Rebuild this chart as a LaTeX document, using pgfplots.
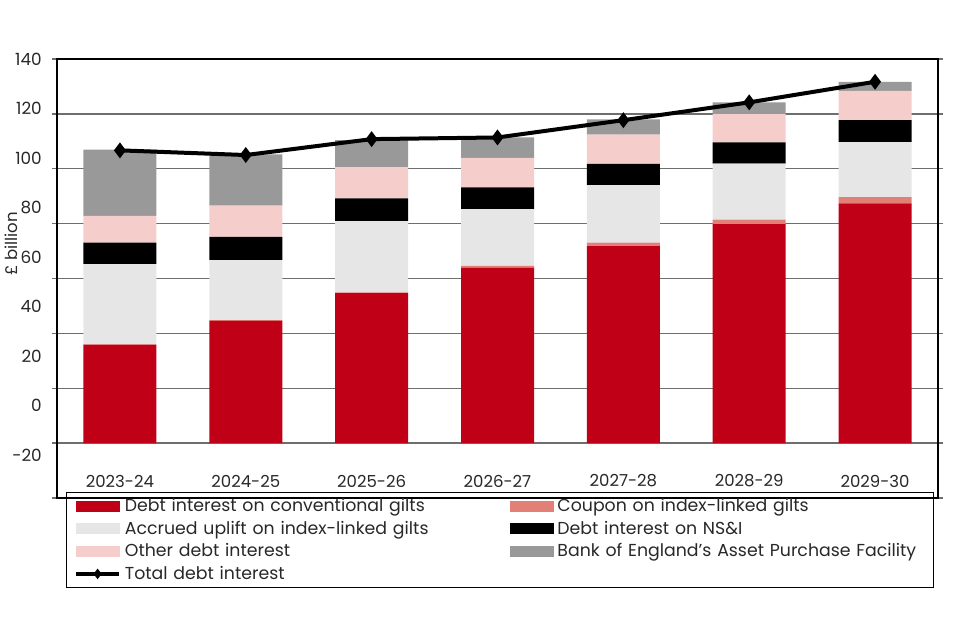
\documentclass[border=0pt]{standalone}
\usepackage{pgfplots}
\pgfplotsset{compat=1.18}
\usepackage{pgfplotstable}
\usepackage{fontspec}
\setmainfont{Poppins}

\definecolor{conv}{RGB}{192,0,22}
\definecolor{coupon}{RGB}{226,128,120}
\definecolor{accrued}{RGB}{230,230,230}
\definecolor{nsi}{RGB}{0,0,0}
\definecolor{other}{RGB}{245,206,203}
\definecolor{apf}{RGB}{153,153,153}
\definecolor{gridgray}{RGB}{110,110,110}
\definecolor{txt}{RGB}{40,40,40}

% x: 0 = 2023-24 ... 6 = 2029-30, values in £ billion
\pgfplotstableread{
x conv coupon accrued nsi other apf total
0 35.9 0.1 29.2 7.9 9.7 24.2 106.7
1 44.6 0.2 21.9 8.5 11.4 18.6 105.0
2 54.7 0.2 26.0 8.3 11.3 9.9 110.8
3 63.9 0.7 20.7 7.9 10.8 7.4 111.4
4 71.8 1.3 20.9 7.8 10.6 5.6 117.7
5 79.8 1.7 20.4 7.7 10.3 4.3 124.2
6 87.4 2.3 20.0 8.0 10.7 3.3 131.7
}\debt

\pgfplotsset{
  box/.style={scale only axis, width=660.75pt, height=329.25pt,
    at={(42.75pt,106.5pt)}, anchor=south west, xmin=-0.5, xmax=6.5},
  legbar/.style={legend image code/.code={\fill[#1] (0pt,-3.75pt) rectangle (32pt,3.75pt);}},
  legline/.style={legend image code/.code={\draw[##1, line width=3pt, mark size=1.5pt, mark repeat=2, mark phase=2]
    plot coordinates {(0pt,0pt) (16pt,0pt) (32pt,0pt)};}},
}

\begin{document}
\begin{tikzpicture}
\path[use as bounding box] (0,0) rectangle (720pt,480pt);

% bars, grid, frame, categories
\begin{axis}[box,
  ymin=-20, ymax=140,
  ybar stacked, bar width=0.58,
  ytick={-20,0,...,140}, yticklabels={,,,,,,,,},
  ymajorgrids, grid style={gridgray, line width=1.1pt},
  tick align=outside, major tick length=3.75pt,
  ytick style={gridgray, line width=1.1pt},
  axis line style={black, line width=0.8pt},
  xtick={0,...,6},
  xticklabels={2023-24,2024-25,2025-26,2026-27,2027-28,2028-29,2029-30},
  xtick style={draw=none},
  xticklabel style={anchor=center, yshift=16.5pt, text=txt, font=\fontsize{12.4}{14}\selectfont},
  ylabel={£ billion},
  ylabel style={at={(rel axis cs:-0.0522,0.5786)}, anchor=center,
    text=txt, font=\fontsize{12.4}{14}\selectfont},
]
\addplot[fill=conv, draw=none] table[x=x, y=conv]{\debt};
\addplot[fill=coupon, draw=none] table[x=x, y=coupon]{\debt};
\addplot[fill=accrued, draw=none] table[x=x, y=accrued]{\debt};
\addplot[fill=nsi, draw=none] table[x=x, y=nsi]{\debt};
\addplot[fill=other, draw=none] table[x=x, y=other]{\debt};
\addplot[fill=apf, draw=none] table[x=x, y=apf]{\debt};
\end{axis}

% total line and the legend
\begin{axis}[box,
  ymin=-20, ymax=140,
  hide axis,
  legend columns=2, legend cell align=left,
  legend style={at={(0.0102,0.0137)}, anchor=north west,
    draw=black, fill=none, text=txt,
    font=\fontsize{13}{15}\selectfont,
    inner xsep=6pt, inner ysep=2.5pt, row sep=1.6pt, column sep=1pt,
    /tikz/column 2/.style={text width=286pt},
    /tikz/column 4/.style={text width=274pt}},
]
\addlegendimage{legbar=conv}
\addlegendentry{Debt interest on conventional gilts}
\addlegendimage{legbar=coupon}
\addlegendentry{Coupon on index-linked gilts}
\addlegendimage{legbar=accrued}
\addlegendentry{Accrued uplift on index-linked gilts}
\addlegendimage{legbar=nsi}
\addlegendentry{Debt interest on NS\&I}
\addlegendimage{legbar=other}
\addlegendentry{Other debt interest}
\addlegendimage{legbar=apf}
\addlegendentry{Bank of England's Asset Purchase Facility}
\addplot[black, line width=3pt, mark=diamond*, mark size=3.5pt, legline]
  table[x=x, y=total]{\debt};
\addlegendentry{Total debt interest}
\end{axis}

% tick labels, set where the reference puts them
\begin{axis}[box,
  ymin=-37.37, ymax=140,
  axis x line=none, axis y line*=left,
  y axis line style={draw=none},
  ytick={-20,0,...,140},
  yticklabels={-20,0,20,40,60,80,100,120,140},
  major tick length=0pt, ytick style={draw=none},
  yticklabel style={anchor=east, inner sep=0pt, xshift=-11.25pt,
    text=txt, font=\fontsize{12.6}{14}\selectfont},
]
\end{axis}
\end{tikzpicture}
\end{document}
